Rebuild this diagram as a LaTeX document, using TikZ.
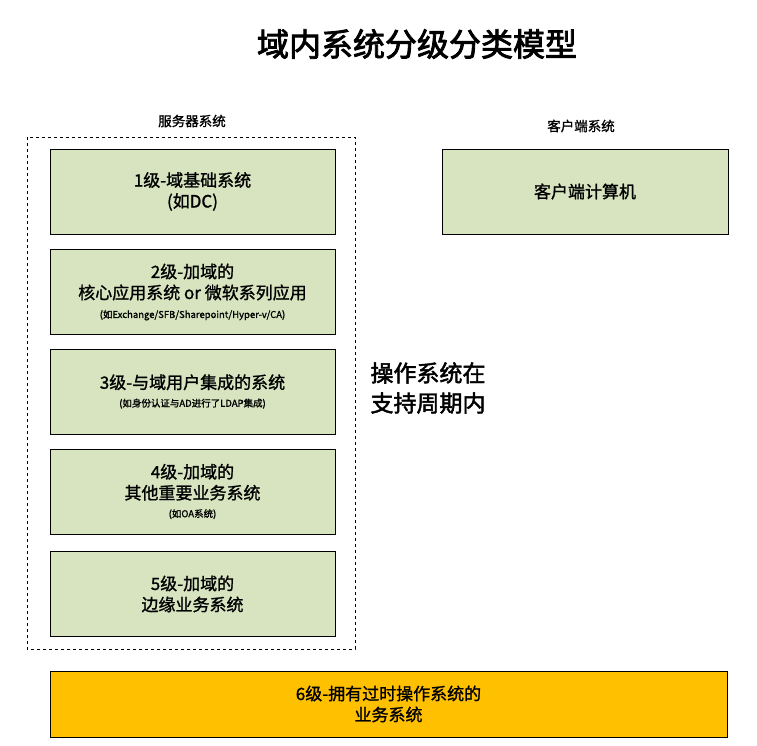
\documentclass[tikz,border=0pt]{standalone}
\usepackage{fontspec}
\setmainfont{Noto Sans CJK SC}[BoldFont=Noto Sans CJK SC,BoldFeatures={FakeBold=2.5}]
\newfontfamily\medfont{Noto Sans CJK SC}[FakeBold=1.2]
\newfontfamily\semifont{Noto Sans CJK SC}[FakeBold=2]
\begin{document}
\begin{tikzpicture}[x=1pt,y=-1pt,
  box/.style={draw=black,fill=green1,minimum width=285pt,minimum height=85pt,align=center,font=\medfont\fontsize{17}{21}\selectfont,inner sep=0pt}]
\definecolor{green1}{HTML}{D8E4C0}
\definecolor{gold}{HTML}{FFC000}
\useasboundingbox (0,0) rectangle (757,746);
\node[font=\fontsize{32}{36}\selectfont\bfseries] (title) at (417,44) {域内系统分级分类模型};
\node[font=\medfont\fontsize{13.5}{16}\selectfont] (srv) at (192,121) {服务器系统};
\node[font=\medfont\fontsize{13.5}{16}\selectfont] (cli) at (581,126) {客户端系统};
\draw[dashed] (27,137) rectangle (355,649);
\node[box] (b1) at (192.5,191.5) {1级-域基础系统\\(如DC)};
\node[box] (b2) at (192.5,292) {2级-加域的\\核心应用系统 or 微软系列应用\\[-2pt]{\fontsize{9.5}{11}\selectfont (如Exchange/SFB/Sharepoint/Hyper-v/CA)}};
\node[box] (b3) at (192.5,391.5) {3级-与域用户集成的系统\\[-3pt]{\fontsize{9.5}{11}\selectfont (如身份认证与AD进行了LDAP集成)}};
\node[box] (b4) at (192.5,491.5) {4级-加域的\\其他重要业务系统\\[-3pt]{\fontsize{9.5}{11}\selectfont (如OA系统)}};
\node[box] (b5) at (192.5,594) {5级-加域的\\边缘业务系统};
\node[box,minimum width=286pt] (c1) at (585,191.5) {客户端计算机};
\node[box,fill=gold,minimum width=677pt,minimum height=66pt] (b6) at (388.5,704) {6级-拥有过时操作系统的\\业务系统};
\node[font=\semifont\fontsize{23}{30}\selectfont,align=left] (os) at (428,388) {操作系统在\\支持周期内};
\end{tikzpicture}
\end{document}
